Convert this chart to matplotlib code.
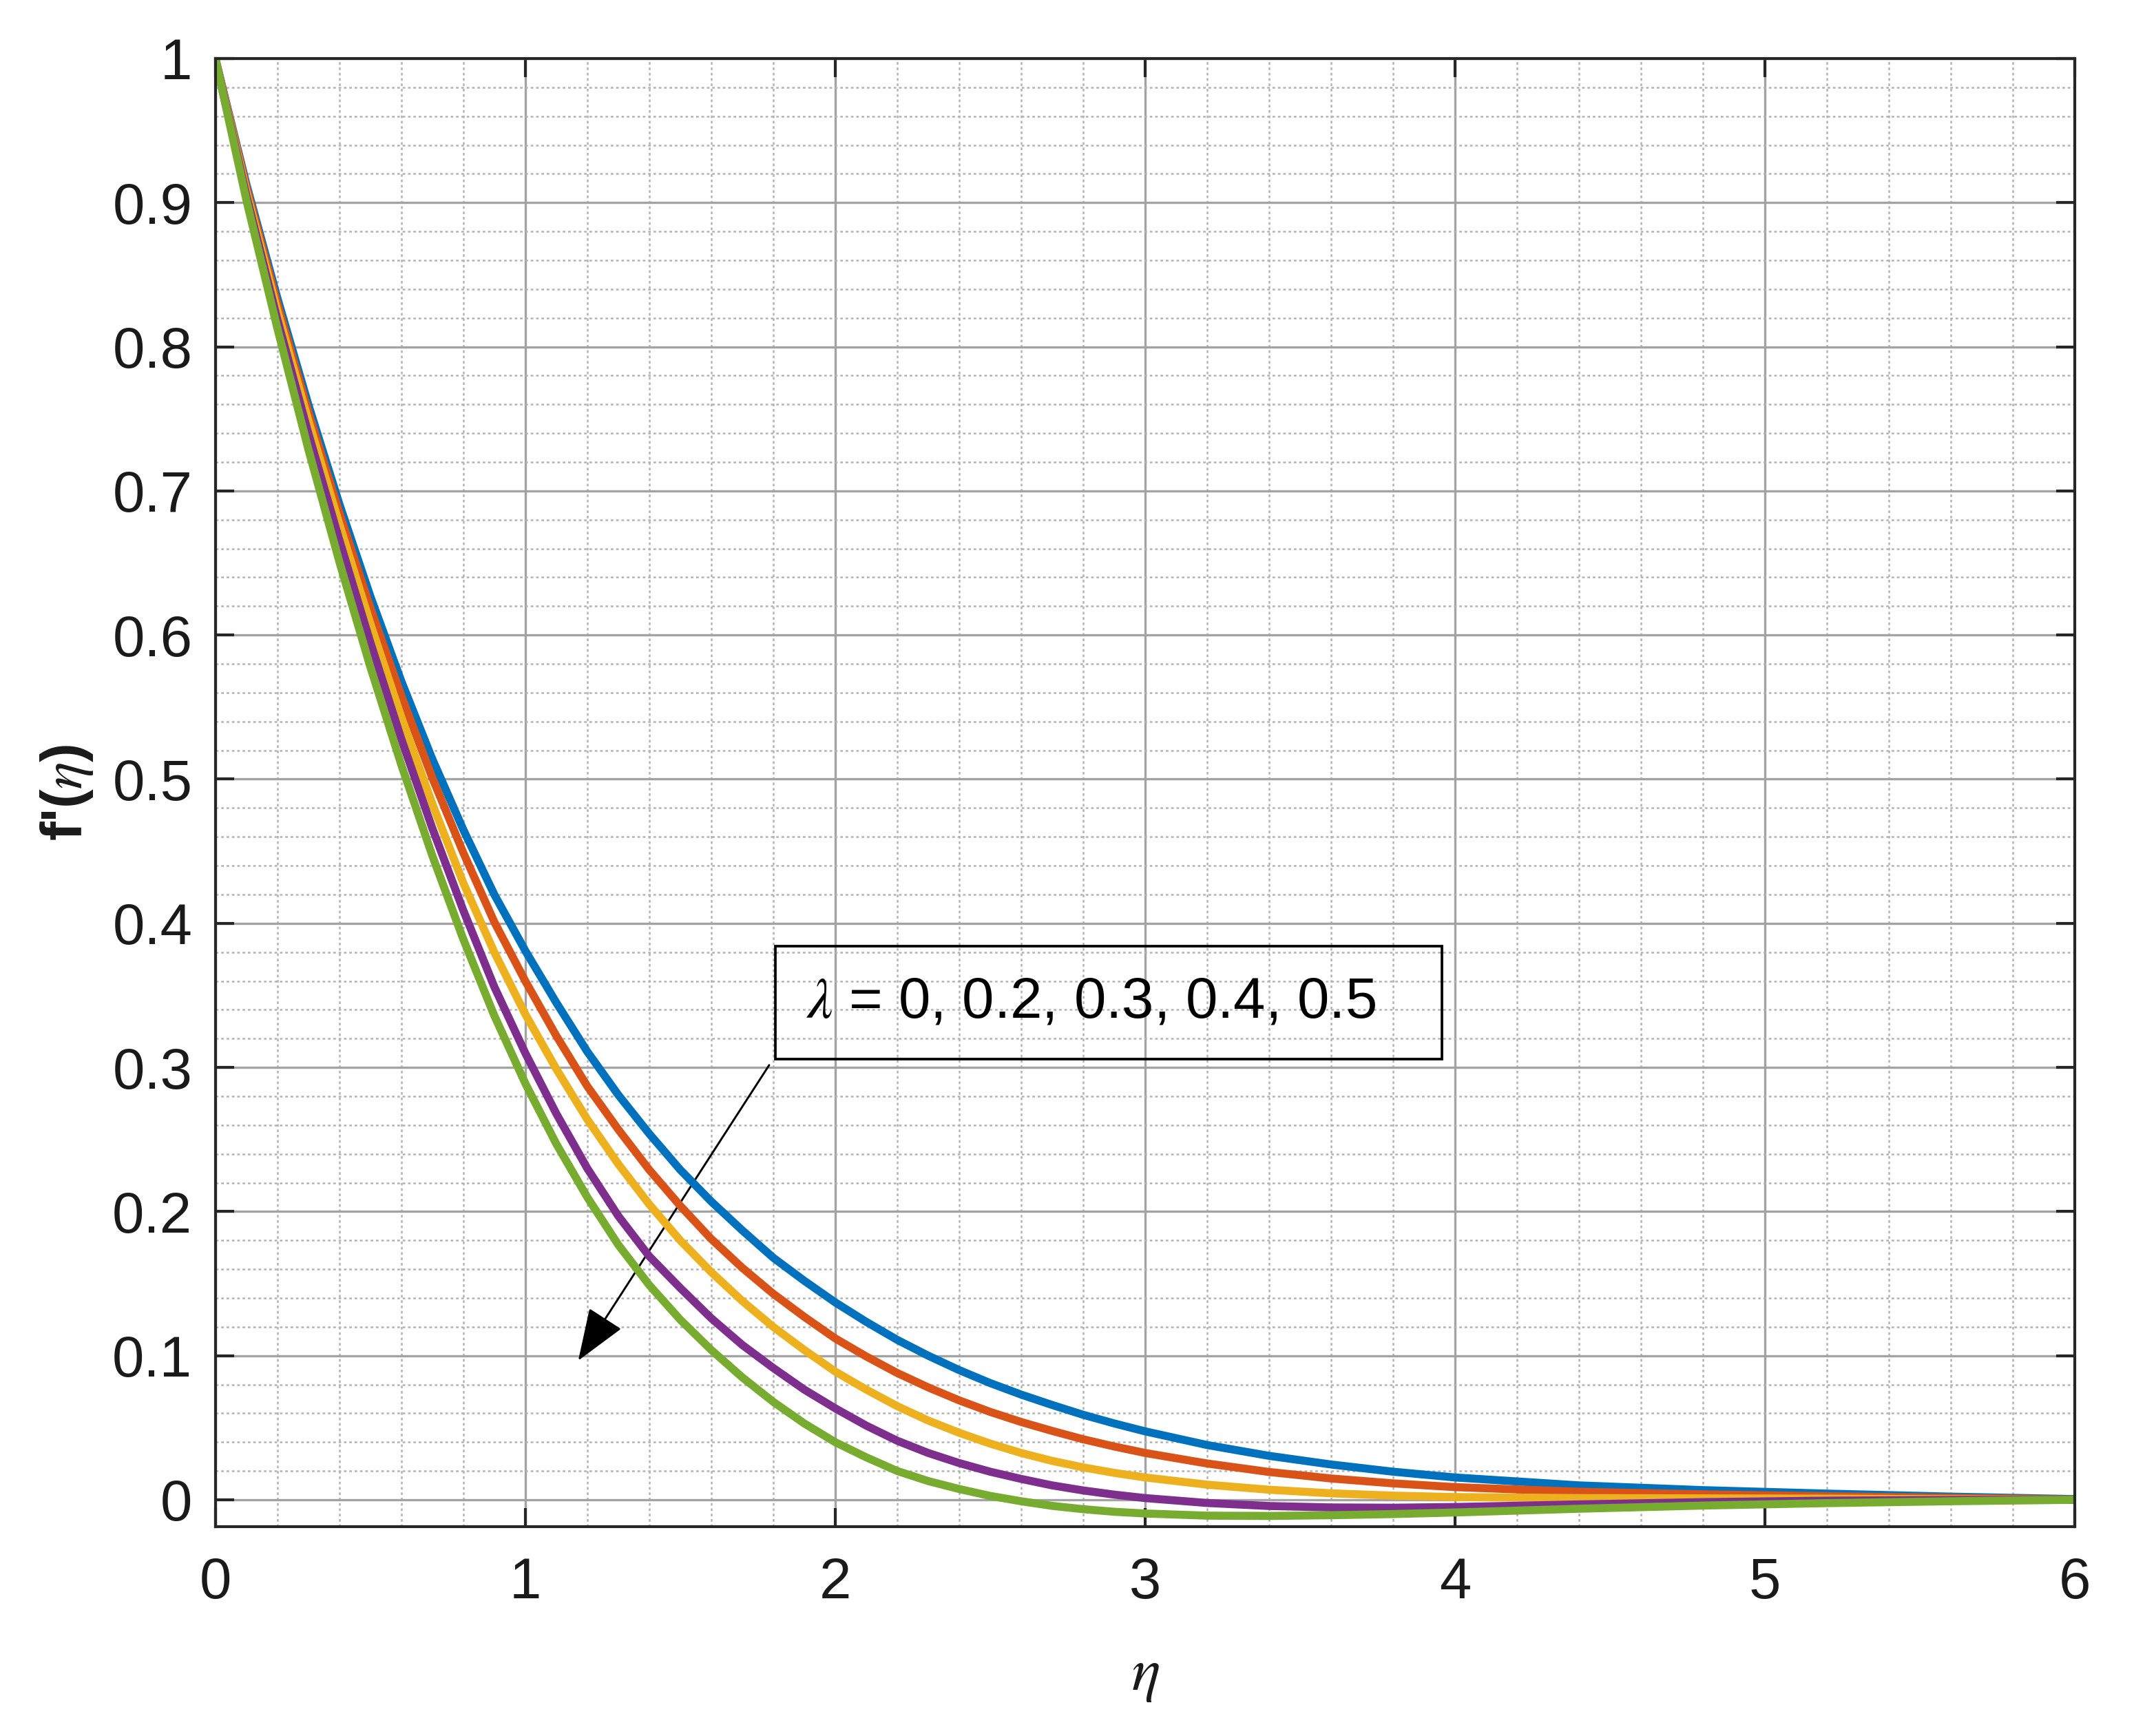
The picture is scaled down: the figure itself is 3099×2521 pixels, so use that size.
import numpy as np
import matplotlib
matplotlib.use('Agg')
import matplotlib.pyplot as plt
from matplotlib.ticker import MultipleLocator
from matplotlib.patches import Rectangle, FancyArrowPatch

# 数据
eta = [0, 0.1, 0.2, 0.3, 0.4, 0.5, 0.6, 0.7, 0.8, 0.9,
       1.0, 1.1, 1.2, 1.3, 1.4, 1.5, 1.6, 1.7, 1.8, 1.9,
       2.0, 2.1, 2.2, 2.3, 2.4, 2.5, 2.6, 2.7, 2.8, 2.9,
       3.0, 3.2, 3.4, 3.6, 3.8, 4.0, 4.4, 4.8, 5.2, 5.6, 6.0]

fp_lam0 = [1.0, 0.913, 0.834, 0.760, 0.691, 0.627, 0.568, 0.514, 0.465, 0.420,
           0.381, 0.345, 0.311, 0.281, 0.254, 0.229, 0.207, 0.187, 0.168, 0.152,
           0.137, 0.1235, 0.111, 0.100, 0.090, 0.081, 0.073, 0.0658, 0.059, 0.053,
           0.0475, 0.0380, 0.0305, 0.0245, 0.0195, 0.0155, 0.0100, 0.0067, 0.0043, 0.0022, 0.0005]
fp_lam02 = [1.0, 0.911, 0.830, 0.755, 0.685, 0.619, 0.558, 0.501, 0.449, 0.401,
            0.360, 0.322, 0.287, 0.257, 0.229, 0.204, 0.181, 0.161, 0.143, 0.127,
            0.112, 0.0995, 0.088, 0.078, 0.069, 0.061, 0.054, 0.0478, 0.042, 0.037,
            0.0325, 0.0252, 0.0193, 0.0148, 0.0114, 0.0088, 0.0056, 0.0038, 0.0025, 0.0013, 0.0002]
fp_lam03 = [1.0, 0.908, 0.825, 0.749, 0.677, 0.608, 0.543, 0.483, 0.428, 0.380,
            0.337, 0.299, 0.264, 0.233, 0.205, 0.180, 0.158, 0.138, 0.120, 0.104,
            0.089, 0.0765, 0.065, 0.055, 0.0465, 0.039, 0.0325, 0.027, 0.0225, 0.0187,
            0.0155, 0.0105, 0.0070, 0.0045, 0.0029, 0.0019, 0.0012, 0.0010, 0.0008, 0.0004, 0.0]
fp_lam04 = [1.0, 0.905, 0.819, 0.740, 0.666, 0.595, 0.528, 0.466, 0.409, 0.356,
            0.310, 0.268, 0.230, 0.197, 0.169, 0.147, 0.126, 0.1075, 0.0915, 0.0765,
            0.0635, 0.0515, 0.041, 0.0325, 0.0255, 0.0195, 0.0145, 0.010, 0.0065, 0.0036,
            0.0012, -0.0022, -0.0043, -0.0053, -0.0055, -0.0050, -0.0032, -0.0016, -0.0006, -0.0001, 0.0]
fp_lam05 = [1.0, 0.902, 0.813, 0.729, 0.651, 0.578, 0.510, 0.447, 0.389, 0.336,
            0.289, 0.247, 0.210, 0.177, 0.149, 0.125, 0.104, 0.085, 0.068, 0.053,
            0.040, 0.0295, 0.020, 0.013, 0.0075, 0.0027, -0.0010, -0.0042, -0.0065, -0.0083,
            -0.0095, -0.0110, -0.0112, -0.0107, -0.0099, -0.0088, -0.0062, -0.0040, -0.0023, -0.0010, 0.0]

curves = [fp_lam0, fp_lam02, fp_lam03, fp_lam04, fp_lam05]
colors = ['#0072BD', '#D95319', '#EDB120', '#7E2F8E', '#77AC30']

x_ticks = [0, 1, 2, 3, 4, 5, 6]
x_labels = ['0', '1', '2', '3', '4', '5', '6']
y_ticks = [0, 0.1, 0.2, 0.3, 0.4, 0.5, 0.6, 0.7, 0.8, 0.9, 1.0]
y_labels = ['0', '0.1', '0.2', '0.3', '0.4', '0.5', '0.6', '0.7', '0.8', '0.9', '1']

label_text = r'$\lambda$ = 0, 0.2, 0.3, 0.4, 0.5'

plt.rcParams['font.family'] = ['Liberation Sans', 'DejaVu Sans']
plt.rcParams['mathtext.fontset'] = 'stix'

fig = plt.figure(figsize=(3099 / 300, 2521 / 300), dpi=300)
ax = fig.add_axes([0.1009, 0.1207, 0.8714, 0.8456])

for y, c in zip(curves, colors):
    ax.plot(eta, y, color=c, lw=2.8, solid_joinstyle='round', solid_capstyle='butt')

ax.set_xlim(0, 6)
ax.set_ylim(-0.0185, 1)
ax.set_xticks(x_ticks)
ax.set_xticklabels(x_labels)
ax.set_yticks(y_ticks)
ax.set_yticklabels(y_labels)
ax.xaxis.set_minor_locator(MultipleLocator(0.2))
ax.yaxis.set_minor_locator(MultipleLocator(0.02))

# 网格
ax.set_axisbelow(True)
ax.grid(which='major', color='#a3a3a3', lw=0.8)
ax.grid(which='minor', color='#b3b3b3', lw=0.6, linestyle=(0, (1.5, 1.6)))

# 坐标轴样式
for spine in ax.spines.values():
    spine.set_linewidth(1.0)
    spine.set_color('#262626')
ax.tick_params(which='major', direction='in', length=6.5, width=1.0, top=True, right=True,
               color='#262626', labelcolor='#1a1a1a', labelsize=20)
ax.tick_params(axis='x', which='major', pad=10.5)
ax.tick_params(axis='y', which='major', pad=8)
ax.tick_params(which='minor', length=0, top=True, right=True)

ax.set_xlabel(r'$\eta$', fontsize=21, labelpad=13, color='#1a1a1a')
ax.set_ylabel(r"f'($\eta$)", fontsize=20, fontweight='bold', labelpad=6, color='#1a1a1a')

# 文本框和箭头
ax.add_patch(Rectangle((1.806, 0.306), 2.152, 0.078, fill=False, edgecolor='black', lw=0.9))
ax.text(1.905, 0.345, label_text, fontsize=20, ha='left', va='center', color='black')
arrow = FancyArrowPatch((1.787, 0.3016), (1.171, 0.0966),
                        arrowstyle='-|>,head_length=16,head_width=6', mutation_scale=1,
                        color='black', lw=0.7, shrinkA=0, shrinkB=0)
ax.add_patch(arrow)

fig.savefig('out.png', dpi=300)
